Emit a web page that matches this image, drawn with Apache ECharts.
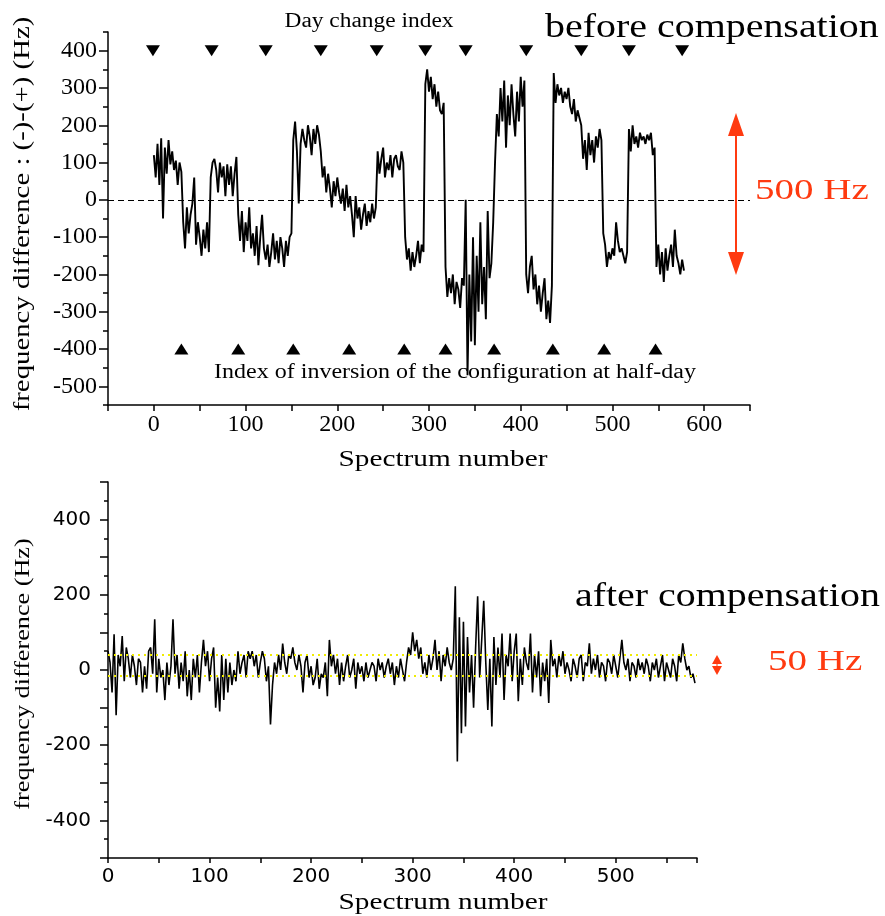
<!DOCTYPE html>
<html><head><meta charset="utf-8">
<script src="https://cdn.jsdelivr.net/npm/echarts@6/dist/echarts.min.js"></script>
<style>html,body{margin:0;padding:0;background:#fff}#c{width:885px;height:916px}</style>
</head><body><div id="c"></div>
<script>
// ---- data ----
const SPEC_STEP = 2; // one value every 2 spectra, starting at spectrum 0
const beforeValues = [
 120, 60, 150, 40, 165, -50, 140, 70, 160, 95, 130, 80, 105, 40, 100, 75,
 -60, -130, -20, -90, -40, -10, 60, -120, -60, -100, -150, -80, -130, -60, -140,
 60, 100, 110, 80, 20, 100, 60, 90, 10, 95, 40, 90, 10, 70, 115,
 -40, -110, -30, -140, -60, -110, -20, -130, -90, -150, -70, -175, -100, -40, -130,
 -160, -120, -180, -140, -90, -160, -110, -170, -100, -130, -180, -110, -150, -100, -90,
 160, 210, 130, -10, 150, 190, 160, 140, 200, 170, 120, 190, 150, 200, 175,
 130, 60, 90, 20, 70, 30, -20, 50, 10, 60, 20, -10, 30, -30, 40, -20, 10, -40, -100, 10,
 -50, -20, -80, -40, -10, -70, -30, -60, -10, -50, -20,
 130, 70, 110, 140, 60, 100, 80, 120, 60, 110, 120, 90, 80, 130, 100,
 -100, -160, -130, -190, -140, -180, -150, -110, -170, -120, -140,
 310, 350, 290, 330, 270, 310, 250, 290, 240, 230, 260,
 -180, -260, -210, -250, -200, -280, -220, -240, -290, -210, -230,
 0, -470, -200, -380, -100, -390, -150, -300, -60, -280, -180, -320, -30, -210, -170, -60,
 100, 230, 170, 300, 210, 320, 140, 280, 200, 310, 230, 170, 290, 210, 330, 250, 320,
 -200, -250, -180, -150, -240, -200, -280, -230, -300, -250, -210, -320, -270, -330, -230,
 340, 260, 310, 280, 300, 260, 290, 270, 300, 250, 230, 270, 210, 240, 220,
 200, 110, 160, 80, 180, 120, 160, 100, 170, 140, 190, 160,
 -90, -120, -180, -140, -160, -130, -150, -60, -110, -140, -130, -150, -170, -140,
 190, 130, 200, 150, 170, 140, 180, 160, 170, 150, 175, 160, 180, 120, 140,
 -180, -120, -200, -140, -220, -130, -190, -150, -120, -180, -80, -150, -170, -200, -160, -190
];
const afterValues = [
 50, 20, -60, 95, -120, 40, 10, 90, -30, 60,
 30, -20, 40, 10, -40, 30, 20, -60, 10, -50,
 50, 60, -10, 135, -60, 30, -20, 0, -80, 20,
 -40, 10, 135, -10, 40, -50, 20, -30, 50, -70,
 0, -80, 30, -20, 40, -60, 20, 80, 10, 50,
 -30, 30, 60, -100, -20, -110, 40, -80, 30, -60,
 20, -40, 0, -30, 50, -10, 20, 40, -20, 50,
 30, 50, 10, 40, -20, 20, 50, 30, -30, 10,
 -145, -40, 20, -10, 40, 0, 70, 20, -10, 40,
 30, 60, 20, 0, 40, 10, -60, 20, 40, -20,
 10, -40, -20, 30, -50, -10, -20, 20, -70, 80,
 10, 40, -10, 30, -40, 20, -30, 10, 40, -20,
 0, 30, -50, 20, -10, 10, -30, 20, -20, 0,
 20, 10, -30, 30, 0, 20, -20, 10, 30, -10,
 20, -40, 10, -20, 30, 0, -30, 20, 60, 40,
 100, 50, 80, 30, 60, -10, 20, -20, 40, 0,
 30, 80, 0, 50, -30, 40, 10, 60, 20, 0,
 30, 223, -243, 140, -168, 128, -150, 88, -60, 40,
 -100, 60, 196, -20, 80, 184, 20, -106, 30, -150,
 88, -40, 60, -20, 97, -80, 40, 10, 97, -30,
 50, 97, -83, 30, -40, 60, 20, 0, 97, -60,
 40, -20, 50, -70, 20, -30, 30, -88, 80, 10,
 30, -20, 40, 10, 50, -10, 20, 0, -30, 30,
 10, -20, 30, 40, -30, 20, 10, 71, -10, 30,
 0, 40, -20, 20, 10, -30, 30, 20, -10, 40,
 10, -20, 30, 80, 20, 0, 30, -30, 20, 10,
 -20, 30, 0, 20, -10, 30, 10, -30, 20, 0,
 30, -20, 10, 40, -30, 20, 0, -20, 30, 10,
 -30, 40, 20, 71, 30, 0, 10, -20, -10, -35
];
const dayChangeIndex = [-1, 63, 122, 182, 243, 296, 340, 406, 466, 518, 576];
const inversionIndex = [30, 92, 152, 213, 273, 318, 371, 435, 491, 547];
const dayMarkerLevel = 400;
const inversionMarkerLevel = -400;
const bandUpper = 40;
const bandLower = -15;
const topXLabels = [0, 100, 200, 300, 400, 500, 600];
const topYLabels = [-500, -400, -300, -200, -100, 0, 100, 200, 300, 400];
const bottomXLabels = [0, 100, 200, 300, 400, 500];
const bottomYLabels = [-400, -200, 0, 200, 400];

// ---- chart ----
const toPairs = vals => vals.map((v, i) => [i * SPEC_STEP, v]);
const RED = '#ff3a10';
const SERIF = '"Liberation Serif", "Times New Roman", serif';
const SANS = '"DejaVu Sans", sans-serif';
const axisLineStyle = { color: '#000', width: 1.5 };

function txt(text, x, y, size, o) {
  o = o || {};
  return {
    type: 'text', x: x, y: y, rotation: o.rot || 0, scaleX: o.sx || 1.2, z: 100,
    style: {
      text: text, fontFamily: o.font || SERIF, fontSize: size, fill: o.color || '#000',
      textAlign: o.align || 'center', textVerticalAlign: 'middle'
    }
  };
}

const chart = echarts.init(document.getElementById('c'), null, { renderer: 'canvas' });
chart.setOption({
  animation: false,
  backgroundColor: '#fff',
  grid: [
    { left: 108, top: 32, width: 642, height: 373 },
    { left: 108, top: 482, width: 589, height: 376 }
  ],
  xAxis: [
    { gridIndex: 0, type: 'value', min: -50, max: 650, interval: 50,
      axisLine: { onZero: false, lineStyle: axisLineStyle },
      axisTick: { length: 6, lineStyle: axisLineStyle },
      splitLine: { show: false },
      axisLabel: { customValues: topXLabels, fontFamily: SERIF, fontSize: 24, color: '#000', margin: 8 } },
    { gridIndex: 1, type: 'value', min: 0, max: 580, interval: 50,
      axisLine: { onZero: false, lineStyle: axisLineStyle },
      axisTick: { length: 5, lineStyle: axisLineStyle },
      splitLine: { show: false },
      axisLabel: { customValues: bottomXLabels, fontFamily: SANS, fontSize: 20, color: '#000', margin: 9 } }
  ],
  yAxis: [
    { gridIndex: 0, type: 'value', min: -550, max: 450, interval: 50,
      axisLine: { onZero: false, lineStyle: axisLineStyle },
      axisTick: { length: 5, lineStyle: axisLineStyle },
      splitLine: { show: false },
      axisLabel: { customValues: topYLabels, fontFamily: SERIF, fontSize: 24, color: '#000', margin: 11 } },
    { gridIndex: 0, type: 'value', min: -550, max: 450, position: 'left',
      axisLine: { show: false, onZero: false },
      axisTick: { customValues: topYLabels, length: 9, lineStyle: axisLineStyle },
      axisLabel: { show: false }, splitLine: { show: false } },
    { gridIndex: 1, type: 'value', min: -500, max: 500, interval: 100,
      axisLine: { onZero: false, lineStyle: axisLineStyle },
      axisTick: { length: 8, lineStyle: axisLineStyle },
      minorTick: { show: true, splitNumber: 2, length: 4, lineStyle: axisLineStyle },
      splitLine: { show: false },
      axisLabel: { customValues: bottomYLabels, fontFamily: SANS, fontSize: 20, color: '#000', margin: 17 } }
  ],
  series: [
    { type: 'line', xAxisIndex: 0, yAxisIndex: 0, data: toPairs(beforeValues),
      symbol: 'none', lineStyle: { color: '#000', width: 1.9 }, z: 3,
      markLine: { silent: true, symbol: 'none', label: { show: false },
        lineStyle: { color: '#000', type: [6, 4], width: 1.2 },
        data: [{ yAxis: 0 }] } },
    { type: 'scatter', xAxisIndex: 0, yAxisIndex: 0,
      data: dayChangeIndex.map(s => [s, dayMarkerLevel]),
      symbol: 'triangle', symbolRotate: 180, symbolSize: [14, 11],
      itemStyle: { color: '#000', opacity: 1 } },
    { type: 'scatter', xAxisIndex: 0, yAxisIndex: 0,
      data: inversionIndex.map(s => [s, inversionMarkerLevel]),
      symbol: 'triangle', symbolSize: [14, 11],
      itemStyle: { color: '#000', opacity: 1 } },
    { type: 'line', xAxisIndex: 1, yAxisIndex: 2, data: toPairs(afterValues),
      symbol: 'none', lineStyle: { color: '#000', width: 1.6 }, z: 3,
      markLine: { silent: true, symbol: 'none', label: { show: false },
        lineStyle: { color: '#f0ec00', type: [2, 4], width: 2 },
        data: [{ yAxis: bandUpper }, { yAxis: bandLower }] } }
  ],
  graphic: [
    txt('Day change index', 369, 22, 20, { sx: 1.17 }),
    txt('before compensation', 545, 28, 33, { align: 'left', sx: 1.21 }),
    txt('Index of inversion of the configuration at half-day', 455, 373, 20, { sx: 1.2 }),
    txt('Spectrum number', 443, 460, 24, { sx: 1.22 }),
    txt('frequency difference : (-)-(+) (Hz)', 23, 214, 24, { rot: Math.PI / 2, sx: 1.2 }),
    txt('500 Hz', 755, 191, 30, { align: 'left', color: RED, sx: 1.3 }),
    txt('after compensation', 575, 597, 33, { align: 'left', sx: 1.21 }),
    txt('50 Hz', 768, 662, 30, { align: 'left', color: RED, sx: 1.3 }),
    txt('frequency difference (Hz)', 23, 674, 22, { rot: Math.PI / 2, sx: 1.19 }),
    txt('Spectrum number', 443, 903, 24, { sx: 1.22 }),
    // big red double arrow
    { type: 'line', z: 100, shape: { x1: 736, y1: 130, x2: 736, y2: 258 }, style: { stroke: RED, lineWidth: 2 } },
    { type: 'polygon', z: 100, shape: { points: [[736, 113], [728, 136], [744, 136]] }, style: { fill: RED } },
    { type: 'polygon', z: 100, shape: { points: [[736, 275], [728, 252], [744, 252]] }, style: { fill: RED } },
    // small red double arrow
    { type: 'polygon', z: 100, shape: { points: [[717, 655], [712, 664], [722, 664]] }, style: { fill: RED } },
    { type: 'polygon', z: 100, shape: { points: [[717, 675], [712, 666], [722, 666]] }, style: { fill: RED } },
    { type: 'line', z: 100, shape: { x1: 717, y1: 660, x2: 717, y2: 670 }, style: { stroke: RED, lineWidth: 1 } }
  ]
});
</script></body></html>
